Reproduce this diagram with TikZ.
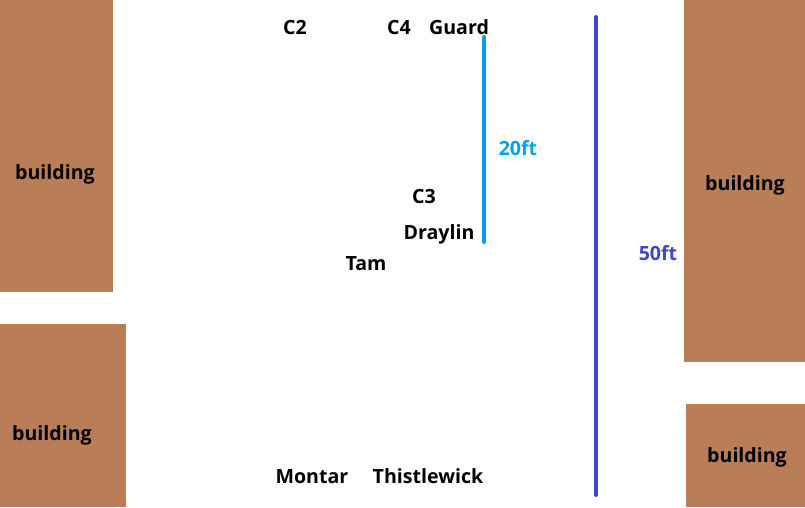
\documentclass[tikz,border=0pt]{standalone}
\usepackage{fontspec}
\setmainfont{Open Sans}
\definecolor{bldg}{HTML}{B97D57}
\definecolor{cyanline}{HTML}{00A2E8}
\definecolor{blueline}{HTML}{3F48CC}
\begin{document}
\begin{tikzpicture}[x=1pt,y=-1pt,
  lbl/.style={font=\bfseries\fontsize{19.6}{19.6}\selectfont, anchor=base, inner sep=0pt},
  bld/.style={fill=bldg, draw=none},
  meas/.style={line width=4pt, line cap=round}]
\useasboundingbox (0,0) rectangle (805,507);
\fill[white] (0,0) rectangle (805,507);
% buildings
\path[bld] (0,0) rectangle (113,292);
\path[bld] (0,324) rectangle (126,507);
\path[bld] (684,0) rectangle (805,362);
\path[bld] (686,404) rectangle (805,507);
\node[lbl] (b1) at (55,179) {building};
\node[lbl] (b2) at (52,440) {building};
\node[lbl] (b3) at (745,190) {building};
\node[lbl] (b4) at (747,462) {building};
% measures
\coordinate (c20a) at (484,37);
\coordinate (c20b) at (484,242);
\draw[meas, cyanline] (c20a) -- (c20b);
\node[lbl, text=cyanline] (l20) at (518,155) {20ft};
\coordinate (c50a) at (596,17);
\coordinate (c50b) at (596,495);
\draw[meas, blueline] (c50a) -- (c50b);
\node[lbl, text=blueline] (l50) at (658,260) {50ft};
% people
\node[lbl] (c2) at (295,34) {C2};
\node[lbl] (c4) at (399,34) {C4};
\node[lbl] (guard) at (459,34) {Guard};
\node[lbl] (c3) at (424,203) {C3};
\node[lbl] (draylin) at (439,239) {Draylin};
\node[lbl] (tam) at (366,270) {Tam};
\node[lbl] (montar) at (312,483) {Montar};
\node[lbl] (thistle) at (428,483) {Thistlewick};
\end{tikzpicture}
\end{document}
